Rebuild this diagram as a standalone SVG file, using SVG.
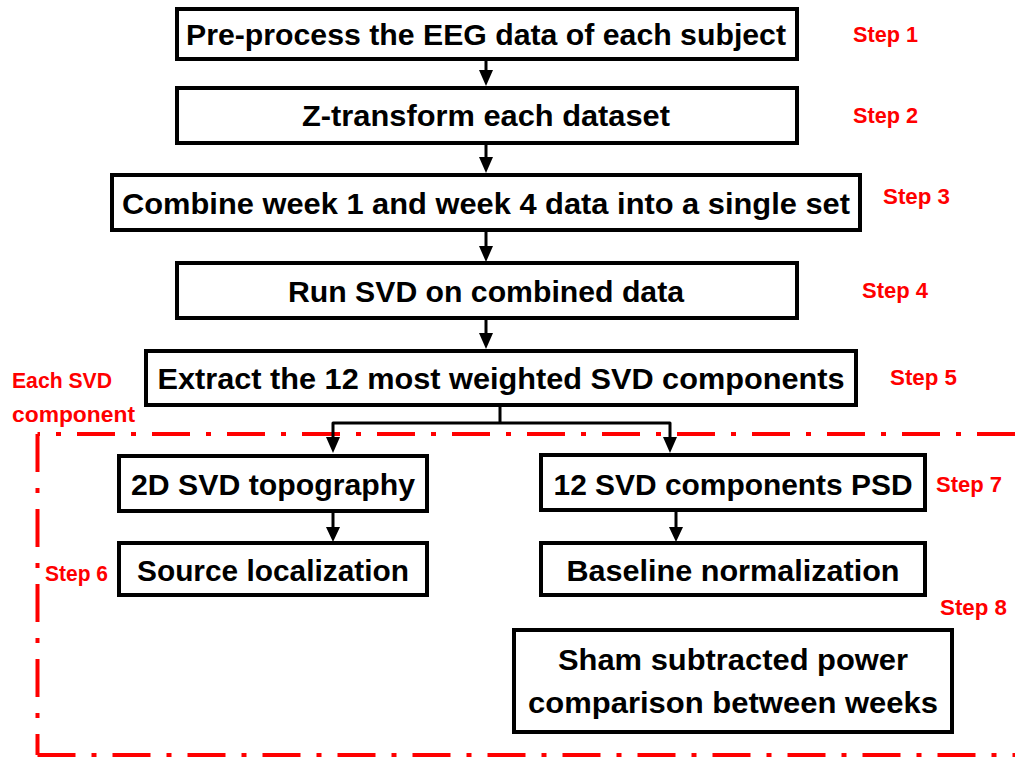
<svg xmlns="http://www.w3.org/2000/svg" width="1015" height="759" viewBox="0 0 1015 759">
<style>
.box{fill:#fff;stroke:#000;stroke-width:4}
.t{font-family:"Liberation Sans",Arial,sans-serif;font-weight:bold;font-size:30px;fill:#000;text-anchor:middle}
.r{font-family:"Liberation Sans",Arial,sans-serif;font-weight:bold;font-size:22px;fill:#f00}
.c{fill:none;stroke:#000;stroke-width:3;stroke-linejoin:round}
.dd{fill:none;stroke:#f00;stroke-width:4;stroke-dasharray:38 16 5 16}
</style>
<rect width="1015" height="759" fill="#fff"/>
<g id="frame">
<path class="dd" d="M1015,434 L37.5,434"/>
<path class="dd" d="M37.5,434 L37.5,755"/>
<path class="dd" d="M37.5,755 L1015,755"/>
</g>
<g id="connectors">
<path d="M486,59 V72" class="c"/><path d="M479,70 H493 L486,86 Z"/>
<path d="M486,143 V158" class="c"/><path d="M479,157 H493 L486,173 Z"/>
<path d="M486,230 V247" class="c"/><path d="M479,246 H493 L486,262 Z"/>
<path d="M486,318 V334" class="c"/><path d="M479,333 H493 L486,349 Z"/>
<path d="M500,405 V423 M333,438 V423 H670 V438" class="c"/>
<path d="M326,437 H340 L333,453 Z"/><path d="M663,437 H677 L670,453 Z"/>
<path d="M333,511 V528" class="c"/><path d="M326,527 H340 L333,542 Z"/>
<path d="M676,510 V528" class="c"/><path d="M669,527 H683 L676,542 Z"/>
</g>
<g id="n1"><rect class="box" x="177" y="9" width="620" height="50"/><text class="t" x="486" y="45" textLength="600" lengthAdjust="spacingAndGlyphs">Pre-process the EEG data of each subject</text></g>
<g id="n2"><rect class="box" x="177" y="88" width="620" height="55"/><text class="t" x="486" y="126" textLength="368" lengthAdjust="spacingAndGlyphs">Z-transform each dataset</text></g>
<g id="n3"><rect class="box" x="112" y="175" width="748" height="55"/><text class="t" x="486" y="214" textLength="728" lengthAdjust="spacingAndGlyphs">Combine week 1 and week 4 data into a single set</text></g>
<g id="n4"><rect class="box" x="177" y="263" width="620" height="55"/><text class="t" x="486" y="302" textLength="396" lengthAdjust="spacingAndGlyphs">Run SVD on combined data</text></g>
<g id="n5"><rect class="box" x="146" y="351" width="710" height="54"/><text class="t" x="501" y="389" textLength="687" lengthAdjust="spacingAndGlyphs">Extract the 12 most weighted SVD components</text></g>
<g id="n6"><rect class="box" x="119" y="456" width="308" height="55"/><text class="t" x="273" y="495" textLength="284" lengthAdjust="spacingAndGlyphs">2D SVD topography</text></g>
<g id="n7"><rect class="box" x="119" y="543" width="308" height="52"/><text class="t" x="273" y="581" textLength="272" lengthAdjust="spacingAndGlyphs">Source localization</text></g>
<g id="n8"><rect class="box" x="541" y="455" width="384" height="55"/><text class="t" x="733" y="495" textLength="359" lengthAdjust="spacingAndGlyphs">12 SVD components PSD</text></g>
<g id="n9"><rect class="box" x="541" y="543" width="384" height="52"/><text class="t" x="733" y="581" textLength="333" lengthAdjust="spacingAndGlyphs">Baseline normalization</text></g>
<g id="n10"><rect class="box" x="514" y="630" width="438" height="102"/><text class="t" x="733" y="670" textLength="350" lengthAdjust="spacingAndGlyphs">Sham subtracted power</text><text class="t" x="733" y="713" textLength="410" lengthAdjust="spacingAndGlyphs">comparison between weeks</text></g>
<g id="labels">
<text class="r" x="853" y="42" textLength="65" lengthAdjust="spacingAndGlyphs">Step 1</text>
<text class="r" x="853" y="123" textLength="65" lengthAdjust="spacingAndGlyphs">Step 2</text>
<text class="r" x="883" y="204" textLength="67" lengthAdjust="spacingAndGlyphs">Step 3</text>
<text class="r" x="862" y="298" textLength="66" lengthAdjust="spacingAndGlyphs">Step 4</text>
<text class="r" x="890" y="385" textLength="67" lengthAdjust="spacingAndGlyphs">Step 5</text>
<text class="r" x="12" y="388" textLength="100" lengthAdjust="spacingAndGlyphs">Each SVD</text>
<text class="r" x="12" y="422" textLength="123" lengthAdjust="spacingAndGlyphs">component</text>
<text class="r" x="45" y="581" textLength="63" lengthAdjust="spacingAndGlyphs">Step 6</text>
<text class="r" x="936" y="492" textLength="66" lengthAdjust="spacingAndGlyphs">Step 7</text>
<text class="r" x="940" y="615" textLength="67" lengthAdjust="spacingAndGlyphs">Step 8</text>
</g>
</svg>
